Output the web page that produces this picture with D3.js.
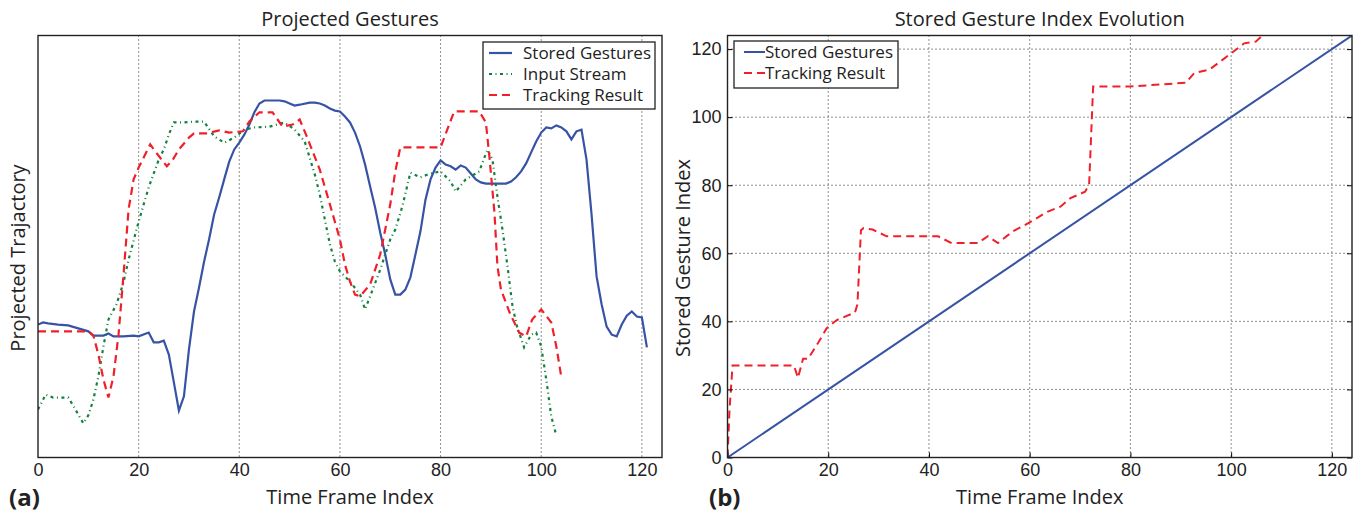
<!DOCTYPE html>
<html>
<head>
<meta charset="utf-8">
<script src="https://cdn.jsdelivr.net/npm/d3@7"></script>
<style>
  body { margin: 0; background: #fff; }
  svg { font-family: "Open Sans", sans-serif; }
</style>
</head>
<body>
<svg width="1355" height="515"></svg>
<script>
// ---- panel (a): projected trajectories, arbitrary units (0-100) ----
const storedFrames = [0,1,2,4,6,8,10,11,13,14,15,17,19,20,22,23,24,25,26,27,28,29,30,31,32,33,34,35,36,37,38,39,40,41,42,43,44,45,47,48,49,50,51,52,54,55,56,57,58,59,60,61,62,63,64,65,66,67,68,69,70,71,72,73,74,75,76,77,78,79,80,81,82,83,84,85,86,87,88,89,92,93,94,95,96,97,98,99,100,101,102,103,104,105,106,107,108,109,110,111,112,113,114,115,116,117,118,119,120,121];
const storedProj = [31.5,32.0,31.8,31.5,31.3,30.6,29.9,28.9,28.9,29.4,28.7,28.7,28.9,28.7,29.6,27.3,27.3,27.7,24.4,17.8,11.1,14.5,25.6,34.6,40.3,46.4,51.7,57.6,61.6,65.9,70.1,73.0,74.6,76.5,78.9,81.8,83.9,84.6,84.6,84.6,84.4,83.9,83.4,83.6,84.1,84.1,83.9,83.4,82.7,82.2,82.0,80.8,79.4,77.0,73.7,69.4,64.2,59.2,53.3,48.1,42.2,38.6,38.6,39.8,42.7,48.1,53.6,61.1,65.9,68.7,70.4,69.4,69.0,68.2,69.2,68.7,67.3,65.9,65.2,64.9,64.9,64.9,65.4,66.4,67.8,69.7,72.3,74.9,77.0,78.2,78.0,78.7,78.2,77.3,75.4,77.3,77.7,70.6,57.6,42.9,36.3,31.0,29.1,28.7,31.5,33.6,34.6,33.4,33.2,26.1];

const inputFrames = [0,1,1.5,3,4,6,7,8,9,10,11,12,13,14,15.6,17,18,20,22,24,25,26,27,29,31,33,35,37,39,41,43,46,49,51,53,55,56,57,58,59,60,62,64,65,66,68,70,71,72.4,74,76,78,80,82,83,85,87.7,89.3,90.3,91.3,92.3,93.3,94.3,95.2,96.6,98,99,100,101,102,103];
const inputProj = [11.4,13.7,14.9,14.2,14.2,14.2,12.3,10.2,8.1,10.0,13.7,19.2,26.3,32.7,36.3,41.5,46.9,55.9,64.0,70.6,73.0,76.5,79.4,79.4,79.6,79.6,76.1,74.6,75.8,77.7,78.2,78.4,79.4,77.7,74.9,67.1,62.3,56.4,50.5,46.4,44.1,41.7,38.6,35.1,38.2,44.5,51.7,54.0,59.5,67.5,66.4,67.3,67.8,65.4,63.0,65.9,67.8,73.0,70.6,61.8,54.0,45.3,35.8,31.0,26.1,29.1,29.6,26.3,18.5,9.7,5.2];

const trackFrames = [0,10,11,12,13,14,15,16,17,18,19,20,22.3,23,25.6,26.8,28,30,31,33.5,36,38,40.7,42,44,46.6,48.6,50.6,52,53.4,56,58,60,61,62,63,64,66,68,70,71,72,80,82.7,87.7,89,89.7,90.7,91.3,92,93.7,95.6,97,98.2,100,102,103,104];
const trackProj = [29.9,29.9,28.9,24.4,18.5,14.2,19.2,29.1,43.4,58.8,65.9,68.7,74.2,73.0,69.0,70.6,73.0,75.8,76.8,76.8,77.5,77.0,77.3,79.6,81.8,81.8,78.4,78.9,80.1,76.1,68.2,60.0,51.7,45.7,41.7,38.6,38.2,41.0,48.1,60.0,67.8,73.5,73.5,82.0,82.0,79.4,71.3,58.1,45.3,39.8,34.4,29.6,28.7,32.7,35.1,32.0,26.3,19.0];

// ---- panel (b): stored gesture index evolution ----
const indexFrames = [0, 124];
const indexStored = [0, 124];
const trackIdxFrames = [0,0.4,1,13.2,14,15,16,18,19.7,21.7,25.3,25.8,26.5,27,28.8,31.6,41.8,44.5,49.7,51.7,53.7,56.6,59.9,63.5,66.1,68.1,71,71.8,72.6,79.8,91,92.7,95.7,99.6,102.6,104.9,106.5,107.2];
const trackIdx = [0,14,27,27,23.4,29,29,33.7,38,40.4,42.6,45,66.8,67.4,67,65,65,63,63,65,63,66.4,69,72.2,73.7,76.2,78.1,80.1,109,109,110.1,113,114,118.3,121.7,122.2,124.4,126];

const xTicks = [0, 20, 40, 60, 80, 100, 120];
const yTicksB = [0, 20, 40, 60, 80, 100, 120];

const svg = d3.select("svg");
const blue = "#3653a5", green = "#12803f", red = "#f0202a";
const plotTop = 35.5, plotBottom = 457.5;

function panel(opt) {
  const x = d3.scaleLinear().domain([0, 124]).range([opt.left, opt.right]);
  const y = d3.scaleLinear().domain(opt.yDomain).range([plotBottom, plotTop]);
  const g = svg.append("g");

  // dotted grid
  g.selectAll(".vg").data(xTicks.slice(1)).enter().append("line")
    .attr("x1", d => x(d)).attr("x2", d => x(d))
    .attr("y1", plotTop).attr("y2", plotBottom)
    .attr("stroke", "#222").attr("stroke-width", 1).attr("stroke-dasharray", "1,3");
  if (opt.yTicks) {
    g.selectAll(".hg").data(opt.yTicks.slice(1)).enter().append("line")
      .attr("x1", opt.left).attr("x2", opt.right)
      .attr("y1", d => y(d)).attr("y2", d => y(d))
      .attr("stroke", "#222").attr("stroke-width", 1).attr("stroke-dasharray", "1,3");
  }

  const clipId = "clip-" + opt.id;
  svg.append("clipPath").attr("id", clipId).append("rect")
    .attr("x", opt.left).attr("y", plotTop)
    .attr("width", opt.right - opt.left).attr("height", plotBottom - plotTop);

  const line = d3.line().x(d => x(d[0])).y(d => y(d[1]));
  opt.series.forEach(s => {
    g.append("path")
      .datum(d3.zip(s.x, s.y))
      .attr("clip-path", `url(#${clipId})`)
      .attr("d", line)
      .attr("fill", "none")
      .attr("stroke", s.color)
      .attr("stroke-width", s.width)
      .attr("stroke-dasharray", s.dash || null);
  });

  // axes with inside ticks
  const xa = g.append("g").attr("transform", `translate(0,${plotBottom})`)
    .call(d3.axisBottom(x).tickValues(xTicks).tickSizeInner(opt.yTicks ? -5 : 0).tickSizeOuter(0).tickPadding(6));
  xa.select(".domain").remove();
  xa.selectAll("text").attr("font-size", 18).attr("fill", "#222");
  if (opt.yTicks) {
    const ya = g.append("g").attr("transform", `translate(${opt.left},0)`)
      .call(d3.axisLeft(y).tickValues(opt.yTicks).tickSizeInner(-5).tickSizeOuter(0).tickPadding(6));
    ya.select(".domain").remove();
    ya.selectAll("text").attr("font-size", 18).attr("fill", "#222");
    const yr = g.append("g").attr("transform", `translate(${opt.right},0)`)
      .call(d3.axisRight(y).tickValues(opt.yTicks).tickSizeInner(-5).tickSizeOuter(0));
    yr.select(".domain").remove();
    yr.selectAll("text").remove();
  }

  // box
  g.append("rect")
    .attr("x", opt.left).attr("y", plotTop)
    .attr("width", opt.right - opt.left).attr("height", plotBottom - plotTop)
    .attr("fill", "none").attr("stroke", "#222").attr("stroke-width", 1.4);

  const cx = (opt.left + opt.right) / 2;
  g.append("text").attr("x", cx).attr("y", 26)
    .attr("text-anchor", "middle").attr("font-size", 20).attr("fill", "#222")
    .text(opt.title);
  g.append("text").attr("x", cx).attr("y", 504)
    .attr("text-anchor", "middle").attr("font-size", 20).attr("fill", "#222")
    .text("Time Frame Index");
  g.append("text")
    .attr("transform", `translate(${opt.ylabelX},258) rotate(-90)`)
    .attr("dy", "0.35em")
    .attr("text-anchor", "middle").attr("font-size", 20).attr("fill", "#222")
    .text(opt.ylabel);
  g.append("text").attr("x", opt.tagX).attr("y", 506)
    .attr("font-size", 24).attr("font-weight", "bold").attr("fill", "#222")
    .text(opt.tag);

  // legend
  const lg = opt.legend;
  g.append("rect")
    .attr("x", lg.x).attr("y", lg.y).attr("width", lg.w).attr("height", lg.h)
    .attr("fill", "#fff").attr("stroke", "#222").attr("stroke-width", 1.3);
  opt.series.forEach((s, i) => {
    const ry = lg.y + lg.first + i * lg.step;
    g.append("line")
      .attr("x1", lg.x + lg.l0).attr("x2", lg.x + lg.l1)
      .attr("y1", ry).attr("y2", ry)
      .attr("stroke", s.color).attr("stroke-width", s.width)
      .attr("stroke-dasharray", s.dash || null);
    g.append("text")
      .attr("x", lg.x + lg.tx).attr("y", ry).attr("dy", "0.35em")
      .attr("font-size", 17).attr("fill", "#222")
      .text(s.name);
  });
}

panel({
  id: "a", left: 38, right: 662, yDomain: [0, 100], yTicks: null,
  title: "Projected Gestures", ylabel: "Projected Trajactory", ylabelX: 18,
  tag: "(a)", tagX: 9,
  legend: { x: 483, y: 42, w: 172, h: 67, first: 11, step: 21, l0: 6, l1: 29, tx: 40 },
  series: [
    { name: "Stored Gestures", x: storedFrames, y: storedProj, color: blue, width: 2.2 },
    { name: "Input Stream", x: inputFrames, y: inputProj, color: green, width: 2.2, dash: "3,3.5,1,3.5" },
    { name: "Tracking Result", x: trackFrames, y: trackProj, color: red, width: 2.2, dash: "8,5" }
  ]
});

panel({
  id: "b", left: 727.5, right: 1352, yDomain: [0, 124], yTicks: yTicksB,
  title: "Stored Gesture Index Evolution", ylabel: "Stored Gesture Index", ylabelX: 683,
  tag: "(b)", tagX: 709,
  legend: { x: 734, y: 41, w: 164, h: 47, first: 11, step: 21, l0: 10, l1: 31, tx: 31 },
  series: [
    { name: "Stored Gestures", x: indexFrames, y: indexStored, color: blue, width: 2 },
    { name: "Tracking Result", x: trackIdxFrames, y: trackIdx, color: red, width: 2, dash: "8,5" }
  ]
});
</script>
</body>
</html>
